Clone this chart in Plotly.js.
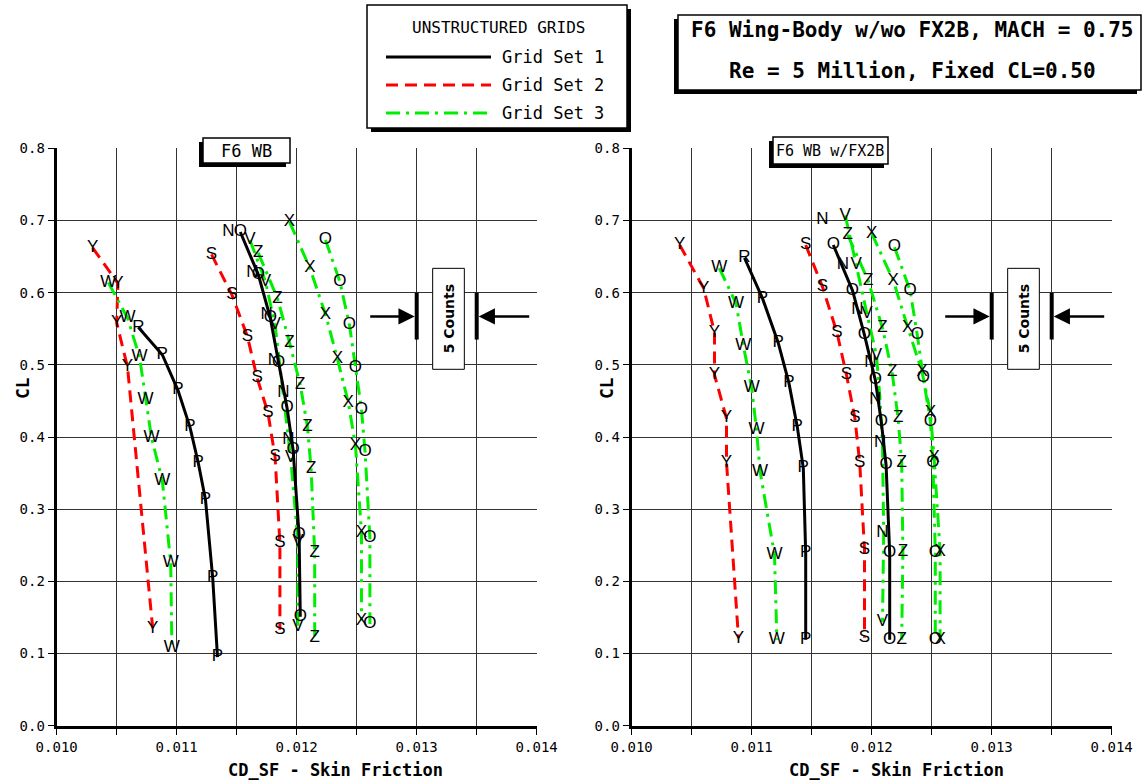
<!DOCTYPE html>
<html>
<head>
<meta charset="utf-8">
<script src="https://cdn.plot.ly/plotly-3.0.1.min.js"></script>
<style>html,body{margin:0;padding:0;background:#fff;}#chart{width:1145px;height:784px;}</style>
</head>
<body>
<div id="chart"></div>
<script>
// ---------------- DATA ----------------
// Left panel: F6 WB
const wbP_x = [0.01068,0.01088,0.01101,0.01111,0.01118,0.01124,0.01130,0.01134];
const wbP_y = [0.552,0.514,0.465,0.414,0.364,0.313,0.205,0.095];
const wbP_t = ['R','P','P','P','P','P','P','P'];
const wbO1_x = [0.01153,0.01168,0.01178,0.01185,0.01192,0.01197,0.01202,0.01203];
const wbO1_y = [0.684,0.625,0.565,0.503,0.440,0.382,0.264,0.151];
const wbN_x = [0.01143,0.01163,0.01175,0.01181,0.01189,0.01193];
const wbN_y = [0.684,0.628,0.569,0.505,0.461,0.396];
const wbY_x = [0.01030,0.01051,0.01050,0.01059,0.01080];
const wbY_y = [0.662,0.613,0.558,0.497,0.135];
const wbS_x = [0.01129,0.01146,0.01159,0.01167,0.01176,0.01182,0.01186,0.01186];
const wbS_y = [0.653,0.597,0.539,0.482,0.434,0.372,0.253,0.133];
const wbW_x = [0.01043,0.01059,0.01069,0.01074,0.01079,0.01088,0.01095,0.01096];
const wbW_y = [0.614,0.565,0.511,0.452,0.399,0.340,0.226,0.108];
const wbV_x = [0.01161,0.01174,0.01182,0.01195,0.01201,0.01201];
const wbV_y = [0.673,0.615,0.555,0.371,0.255,0.137];
const wbZ_x = [0.01168,0.01184,0.01194,0.01203,0.01209,0.01212,0.01215,0.01215];
const wbZ_y = [0.655,0.592,0.531,0.472,0.414,0.356,0.239,0.122];
const wbX_x = [0.01194,0.01211,0.01224,0.01234,0.01243,0.01249,0.01254,0.01254];
const wbX_y = [0.698,0.634,0.570,0.508,0.448,0.388,0.267,0.146];
const wbO3_x = [0.01224,0.01236,0.01244,0.01249,0.01254,0.01257,0.01261,0.01261];
const wbO3_y = [0.673,0.615,0.555,0.496,0.438,0.379,0.260,0.141];

// Right panel: F6 WB w/FX2B
const fxP_x = [0.01094,0.01109,0.01122,0.01131,0.01138,0.01143,0.01145,0.01145];
const fxP_y = [0.648,0.592,0.531,0.475,0.414,0.357,0.239,0.119];
const fxP_t = ['R','P','P','P','P','P','P','P'];
const fxO1_x = [0.01168,0.01184,0.01194,0.01203,0.01208,0.01212,0.01215,0.01215];
const fxO1_y = [0.666,0.603,0.541,0.479,0.421,0.361,0.239,0.119];
const fxN_x = [0.01159,0.01176,0.01188,0.01199,0.01203,0.01207,0.01209];
const fxN_y = [0.701,0.638,0.576,0.503,0.451,0.392,0.267];
const fxY_x = [0.01040,0.01060,0.01069,0.01069,0.01079,0.01079,0.01089];
const fxY_y = [0.666,0.606,0.545,0.486,0.426,0.365,0.121];
const fxS_x = [0.01145,0.01159,0.01171,0.01179,0.01186,0.01190,0.01194,0.01194];
const fxS_y = [0.666,0.608,0.545,0.486,0.426,0.365,0.244,0.122];
const fxW_x = [0.01073,0.01087,0.01093,0.01100,0.01104,0.01107,0.01119,0.01121];
const fxW_y = [0.634,0.585,0.527,0.468,0.410,0.352,0.237,0.119];
const fxV_x = [0.01178,0.01187,0.01196,0.01204,0.01207,0.01209,0.01210,0.01209];
const fxV_y = [0.707,0.638,0.571,0.513,0.451,0.389,0.267,0.144];
const fxV_t = ['V','V','V','V','','','','V'];
const fxZ_x = [0.01180,0.01197,0.01209,0.01217,0.01222,0.01225,0.01226,0.01225];
const fxZ_y = [0.680,0.617,0.551,0.490,0.426,0.365,0.241,0.119];
const fxX_x = [0.01200,0.01218,0.01230,0.01242,0.01249,0.01252,0.01257,0.01257];
const fxX_y = [0.682,0.617,0.552,0.490,0.433,0.371,0.241,0.119];
const fxO3_x = [0.01219,0.01232,0.01238,0.01243,0.01249,0.01251,0.01253,0.01253];
const fxO3_y = [0.663,0.603,0.541,0.482,0.421,0.365,0.239,0.119];

const gridSets = ['Grid Set 1','Grid Set 2','Grid Set 3'];
const countsLabel = '5 Counts';

// ---------------- STYLE ----------------
const W = 1145, H = 784;
const fx = p => p / W, fy = p => 1 - p / H;
const STY = {
  1: {color:'#000000', dash:'solid'},
  2: {color:'#ff0000', dash:'12px,7px'},
  3: {color:'#00ee00', dash:'14px,6px,3px,6px'}
};
const MONO = 'DejaVu Sans Mono, monospace';
const LET = 'Liberation Sans, Arial, sans-serif';

const lineTraces = [], textTraces = [];
function add(x, y, gs, letter, panel) {
  const xa = panel === 2 ? 'x2' : 'x', ya = panel === 2 ? 'y2' : 'y';
  if (gs) {
    lineTraces.push({x, y, mode:'lines', xaxis:xa, yaxis:ya, hoverinfo:'skip',
      name: gridSets[gs-1], line:{color:STY[gs].color, width:3, dash:STY[gs].dash}});
  }
  const t = Array.isArray(letter) ? letter : x.map(() => letter);
  textTraces.push({x, y, mode:'text', text:t, xaxis:xa, yaxis:ya, hoverinfo:'skip',
    textposition:'middle center', textfont:{family:LET, size:17, color:'#000'}, cliponaxis:false});
}
// left
add(wbY_x, wbY_y, 2, 'Y', 1);
add(wbS_x, wbS_y, 2, 'S', 1);
add(wbW_x, wbW_y, 3, 'W', 1);
add(wbV_x, wbV_y, 3, 'V', 1);
add(wbZ_x, wbZ_y, 3, 'Z', 1);
add(wbX_x, wbX_y, 3, 'X', 1);
add(wbO3_x, wbO3_y, 3, 'O', 1);
add(wbP_x, wbP_y, 1, wbP_t, 1);
add(wbO1_x, wbO1_y, 1, 'O', 1);
add(wbN_x, wbN_y, 0, 'N', 1);
// right
add(fxY_x, fxY_y, 2, 'Y', 2);
add(fxS_x, fxS_y, 2, 'S', 2);
add(fxW_x, fxW_y, 3, 'W', 2);
add(fxV_x, fxV_y, 3, fxV_t, 2);
add(fxZ_x, fxZ_y, 3, 'Z', 2);
add(fxX_x, fxX_y, 3, 'X', 2);
add(fxO3_x, fxO3_y, 3, 'O', 2);
add(fxP_x, fxP_y, 1, fxP_t, 2);
add(fxO1_x, fxO1_y, 1, 'O', 2);
add(fxN_x, fxN_y, 0, 'N', 2);

const yDom = [fy(725.7), fy(148.3)];
function xAxis(dom) {
  return {domain:dom, range:[0.010,0.014], dtick:0.001, tick0:0.010, tickformat:'.3f',
    showgrid:true, gridcolor:'#333', gridwidth:1, zeroline:false,
    showline:true, linecolor:'#000', linewidth:3, ticks:'outside', ticklen:6, tickwidth:1, tickcolor:'#000',
    minor:{dtick:0.0005, showgrid:true, gridcolor:'#333', gridwidth:1, ticks:'outside', ticklen:6, tickcolor:'#000'},
    tickfont:{family:MONO, size:14, color:'#000'}, fixedrange:true, automargin:false};
}
function yAxis(anchor) {
  return {domain:yDom, anchor, range:[0,0.8], dtick:0.1, tickformat:'.1f',
    showgrid:true, gridcolor:'#333', gridwidth:1, zeroline:false,
    showline:true, linecolor:'#000', linewidth:3, ticks:'outside', ticklen:6, tickcolor:'#000',
    tickfont:{family:MONO, size:14, color:'#000'}, fixedrange:true, automargin:false};
}

const shapes = [], annotations = [];
function pbox(x0, y0, x1, y1, sdx, sdy) {
  shapes.push({type:'rect', xref:'paper', yref:'paper', x0:fx(x0+sdx), x1:fx(x1+sdx), y0:fy(y1+sdy), y1:fy(y0+sdy),
    fillcolor:'#000', line:{width:0}});
  shapes.push({type:'rect', xref:'paper', yref:'paper', x0:fx(x0), x1:fx(x1), y0:fy(y1), y1:fy(y0),
    fillcolor:'#fff', line:{color:'#000', width:1.5}});
}
function ptext(text, x, y, size, bold, anchor, angle) {
  annotations.push({xref:'paper', yref:'paper', x:fx(x), y:fy(y), text: bold ? '<b>'+text+'</b>' : text,
    showarrow:false, xanchor:anchor || 'center', yanchor:'middle', textangle:angle || 0,
    font:{family:MONO, size, color:'#000'}});
}
// legend
pbox(367, 5, 627, 128, 4, 4);
ptext('UNSTRUCTURED GRIDS', 498, 28, 16, false);
[57, 85, 113].forEach((yy, i) => {
  shapes.push({type:'line', xref:'paper', yref:'paper', x0:fx(386), x1:fx(491), y0:fy(yy), y1:fy(yy),
    line:{color:STY[i+1].color, width:3, dash:STY[i+1].dash}});
  ptext(gridSets[i], 500, yy, 17, false, 'left');
});
// title box
pbox(678, 15, 1141, 90, -4, 4);
ptext('F6 Wing-Body w/wo FX2B, MACH = 0.75', 912, 30, 21, true);
ptext('Re = 5 Million, Fixed CL=0.50', 912, 71, 21, true);
// panel labels
pbox(203, 138, 290, 163, -4, 4);
ptext('F6 WB', 246, 151, 17, false);
pbox(773, 137, 888, 164, -4, 4);
ptext('F6 WB w/FX2B', 830, 151, 15, false);
// axis titles
ptext('CL', 22, 388, 18, true, 'center', -90);
ptext('CL', 606, 388, 18, true, 'center', -90);
ptext('CD_SF - Skin Friction', 336, 770, 17, true);
ptext('CD_SF - Skin Friction', 896, 770, 17, true);

// 5 counts markers (data coords)
const cntL = 0.0130, cntR = 0.0135, cntY = 0.567, cntY0 = 0.535, cntY1 = 0.600;
['x','x2'].forEach((xr, i) => {
  const yr = i ? 'y2' : 'y';
  shapes.push({type:'line', xref:xr, yref:yr, x0:cntL, x1:cntL, y0:cntY0, y1:cntY1, line:{color:'#000', width:4}});
  shapes.push({type:'line', xref:xr, yref:yr, x0:cntR, x1:cntR, y0:cntY0, y1:cntY1, line:{color:'#000', width:4}});
  shapes.push({type:'rect', xref:xr, yref:yr, x0:0.013133, x1:0.013397, y0:0.4938, y1:0.6337,
    fillcolor:'#fff', line:{color:'#000', width:1}});
  annotations.push({xref:xr, yref:yr, x:0.013265, y:0.5637, text:'<b>'+countsLabel+'</b>', showarrow:false,
    textangle:-90, font:{family:'DejaVu Sans, sans-serif', size:14, color:'#000'}});
  annotations.push({xref:xr, yref:yr, axref:xr, ayref:yr, x:cntL, y:cntY, ax:0.0126, ay:cntY, text:'',
    showarrow:true, arrowhead:2, arrowsize:1.3, arrowwidth:2.5, arrowcolor:'#000', standoff:2});
  annotations.push({xref:xr, yref:yr, axref:xr, ayref:yr, x:cntR, y:cntY, ax:0.01395, ay:cntY, text:'',
    showarrow:true, arrowhead:2, arrowsize:1.3, arrowwidth:2.5, arrowcolor:'#000', standoff:2});
});

const layout = {
  width:W, height:H, margin:{l:0, r:0, t:0, b:0},
  paper_bgcolor:'#fff', plot_bgcolor:'#fff', showlegend:false,
  font:{family:MONO, color:'#000'},
  xaxis: Object.assign(xAxis([fx(56.7), fx(536.7)]), {anchor:'y'}),
  yaxis: yAxis('x'),
  xaxis2: Object.assign(xAxis([fx(631.7), fx(1111.7)]), {anchor:'y2'}),
  yaxis2: yAxis('x2'),
  shapes, annotations
};
Plotly.newPlot('chart', lineTraces.concat(textTraces), layout, {displayModeBar:false, staticPlot:true});
</script>
</body>
</html>
